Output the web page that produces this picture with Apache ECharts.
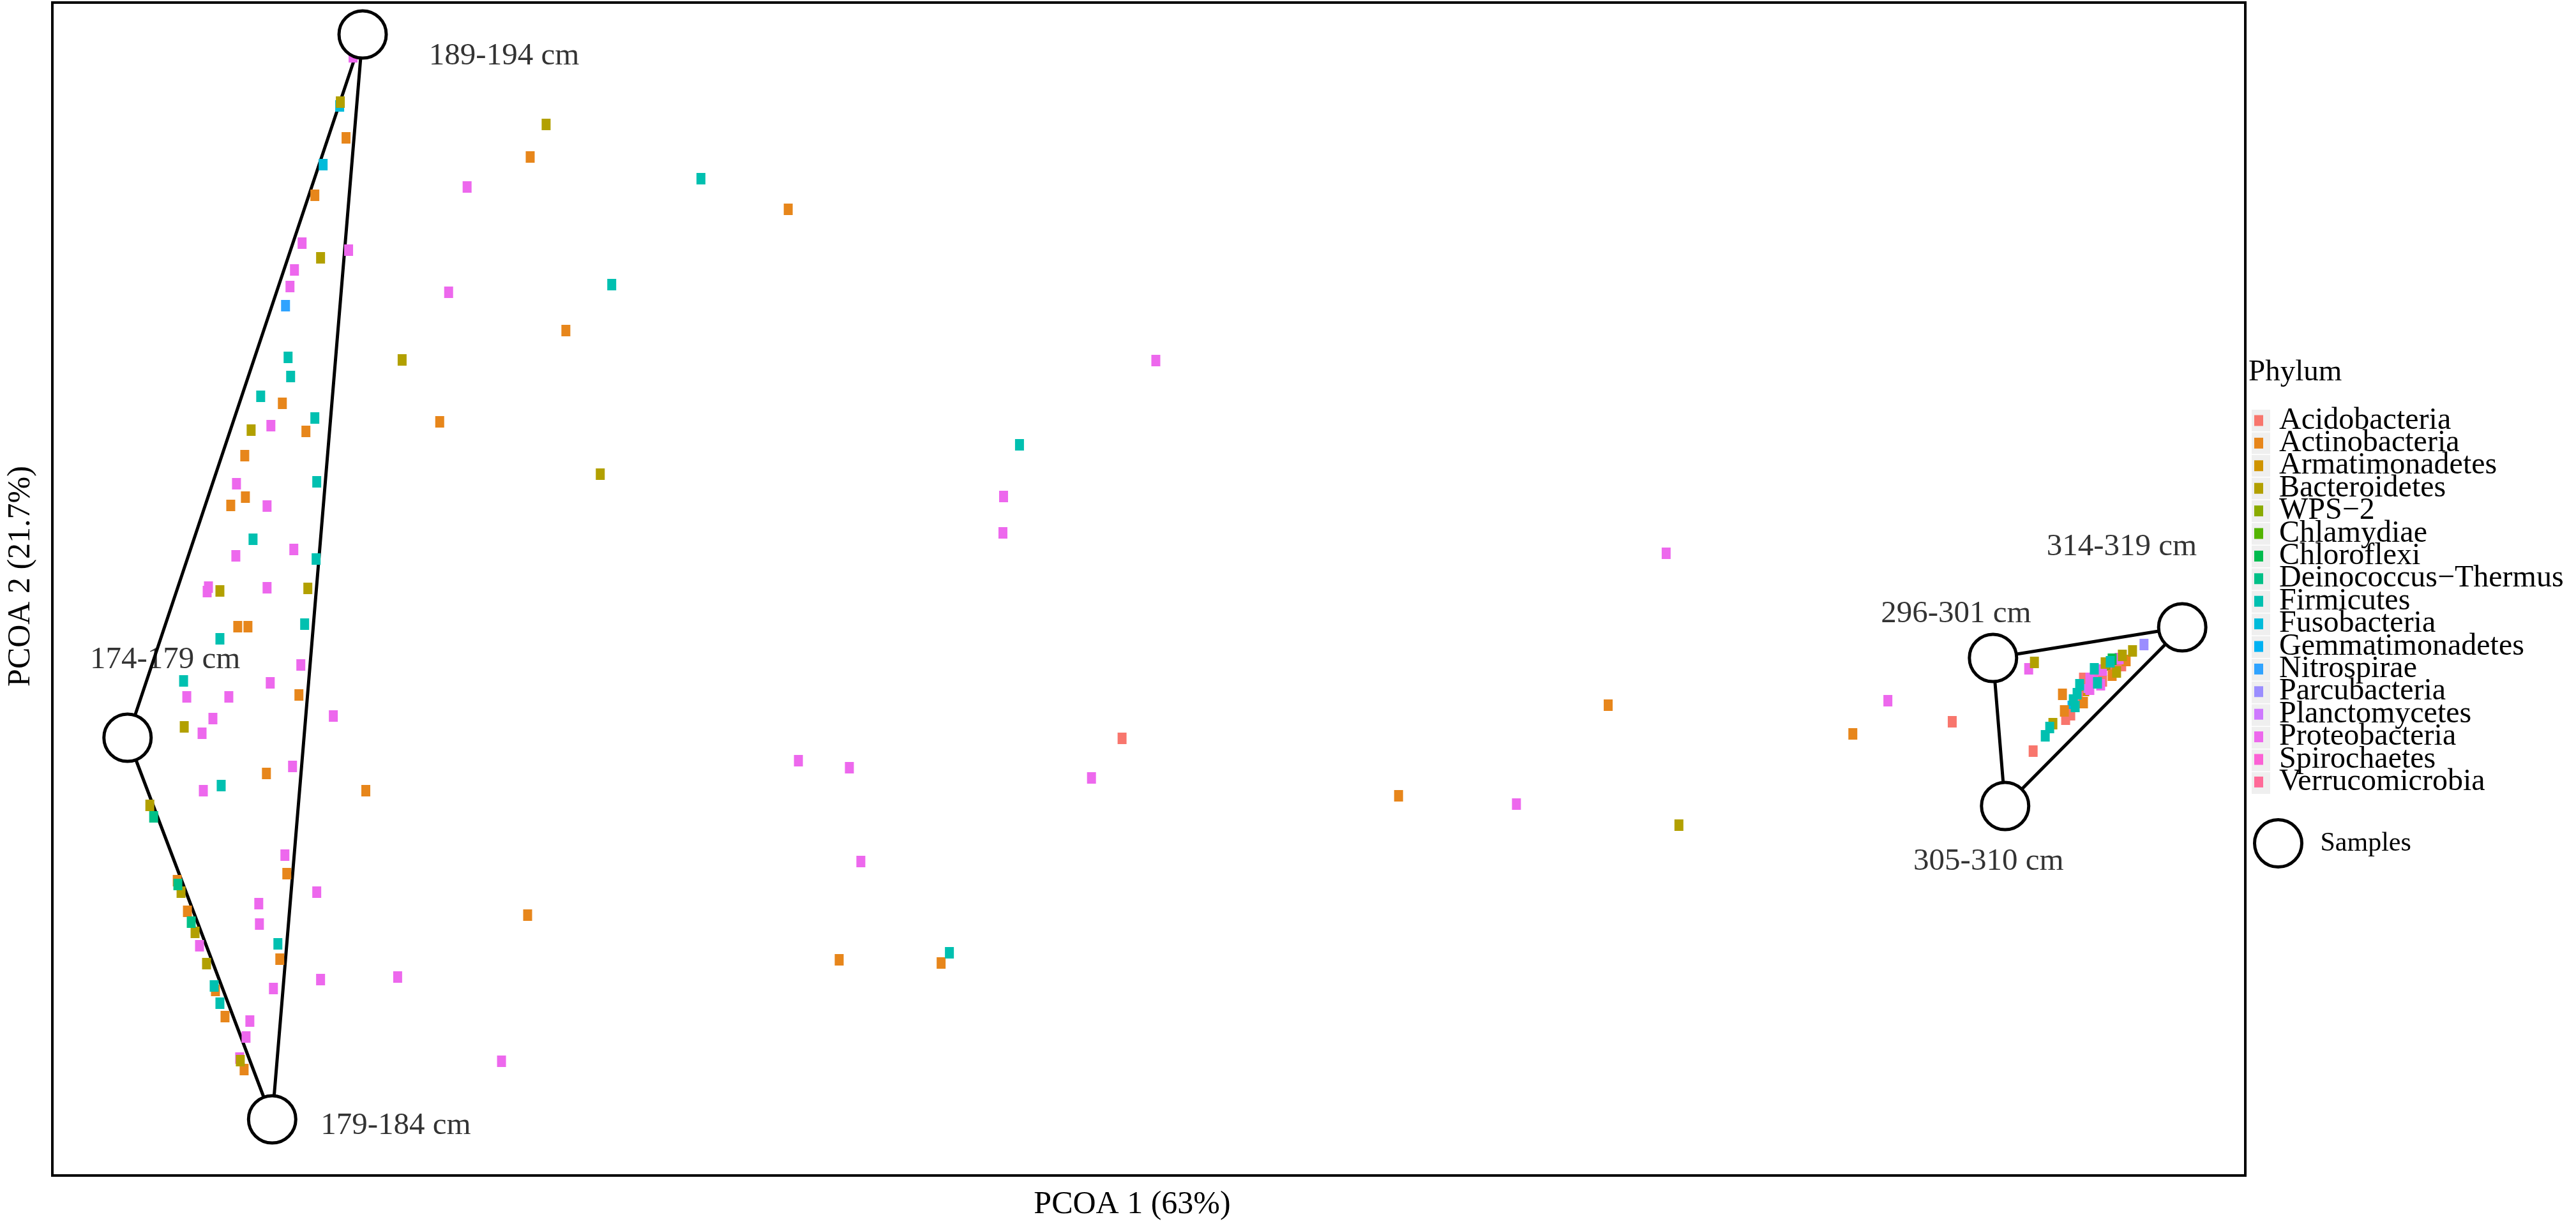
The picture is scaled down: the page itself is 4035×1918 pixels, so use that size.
<!DOCTYPE html>
<html><head><meta charset="utf-8">
<script src="https://cdn.jsdelivr.net/npm/echarts@6/dist/echarts.min.js"></script>
<style>html,body{margin:0;padding:0;background:#fff}#c{width:4035px;height:1918px}</style>
</head><body><div id="c"></div><script>
// Phyla (legend order) and colours (ggplot hue palette, 17 levels)
const phyla = ['Acidobacteria','Actinobacteria','Armatimonadetes','Bacteroidetes','WPS\u22122','Chlamydiae','Chloroflexi','Deinococcus\u2212Thermus','Firmicutes','Fusobacteria','Gemmatimonadetes','Nitrospirae','Parcubacteria','Planctomycetes','Proteobacteria','Spirochaetes','Verrucomicrobia'];
const phylumColors = ['#F8766D','#E7861B','#D09400','#B2A000','#8AAB00','#53B400','#00BB4E','#00C087','#00C0B0','#00BBDA','#00B2F3','#2FA3FF','#9B8EFF','#CE79FF','#ED68ED','#FC61D5','#FF6A98'];

// Taxa coordinates [PCoA1, PCoA2] (arbitrary units)
const acidobacteria = [[1679,685],[2982,711],[3109,665],[3160,715],[3168,722],[3188,779],[3218,775],[3237,795],[3248,799]];
const actinobacteria = [[461,1626],[412,1536],[361,1210],[608,1181],[398,1166],[302,1128],[303,1063],[280,1050],[291,860],[307,860],[387,753],[336,630],[492,603],[368,473],[196,462],[212,414],[357,339],[256,290],[271,249],[301,166],[750,1596],[1155,1514],[806,1324],[746,408],[1235,338],[1395,333],[2113,595],[2442,737],[2826,692],[3155,754],[3158,728],[3188,741],[3233,784],[3255,807]];
const armatimonadetes = [[3190,760]];
const bacteroidetes = [[452,1682],[421,1438],[549,1278],[312,1168],[263,916],[401,920],[207,703],[153,580],[202,444],[224,381],[242,332],[295,180],[775,1647],[860,1099],[2553,549],[3111,804],[3140,708],[3222,803],[3240,789],[3249,815],[3265,822]];
const wps2 = [[3200,775]];
const chlamydiae = [[3225,800]];
const chloroflexi = [[3233,809]];
const deinococcus = [[159,562],[197,456],[218,397]];
const firmicutes = [[370,1282],[374,1252],[327,1221],[412,1187],[415,1087],[315,997],[414,966],[396,864],[263,841],[206,775],[265,611],[354,363],[254,297],[263,270],[1018,1562],[878,1396],[1518,1145],[1408,349],[3128,689],[3135,702],[3172,745],[3175,735],[3178,755],[3182,769],[3205,794],[3210,772],[3230,805]];
const fusobacteria = [[451,1676],[425,1584]];
const gemmatimonadetes = [[3170,735]];
const nitrospirae = [[366,1363]];
const parcubacteria = [[3283,832]];
const planctomycetes = [[3195,765]];
const proteobacteria = [[472,1753],[392,1461],[465,1450],[380,1419],[373,1393],[622,1384],[343,1175],[289,1084],[337,1049],[379,981],[288,971],[245,922],[243,915],[337,921],[390,800],[211,750],[277,750],[342,772],[441,720],[252,716],[235,693],[377,641],[237,603],[365,502],[415,444],[324,426],[325,394],[231,360],[347,293],[421,307],[542,311],[310,242],[304,217],[294,184],[651,1549],[1732,1277],[1493,1064],[1492,1007],[2533,975],[1171,650],[1251,639],[1631,623],[2298,582],[1269,492],[705,179],[2881,744],[3102,794],[3218,792],[3198,779],[3198,762],[3215,769],[3244,810]];
const spirochaetes = [[3205,780]];
const verrucomicrobia = [[3180,750]];

// Samples
const sampleNames = ['189-194 cm','174-179 cm','179-184 cm','296-301 cm','314-319 cm','305-310 cm'];
const samplePC1 = [487,118,345,3046,3343,3065];
const samplePC2 = [1788,686,88,811,859,579];
const sampleLabelPC1 = [709,177,539,2988,3248,3039];
const sampleLabelPC2 = [1754,808,78,880,985,492];
const hullGroups = [[0,1,2,0],[3,4,5,3]];

// axis ranges
const xRange = [0, 3442];
const yRange = [0, 1838];

const phylumData = [acidobacteria,actinobacteria,armatimonadetes,bacteroidetes,wps2,chlamydiae,chloroflexi,deinococcus,firmicutes,fusobacteria,gemmatimonadetes,nitrospirae,parcubacteria,planctomycetes,proteobacteria,spirochaetes,verrucomicrobia];
// drawing order: hidden/small ones first
const drawOrder = [2,4,5,10,13,15,16,9,0,1,14,3,6,7,8,11,12];

const FONT = 'Liberation Serif';
const series = [];
hullGroups.forEach((g, gi) => {
  series.push({
    type: 'line', name: 'hull' + gi, silent: true, symbol: 'none', z: 1,
    lineStyle: {color: '#000', width: 5}, animation: false,
    data: g.map(i => [samplePC1[i], samplePC2[i]])
  });
});
drawOrder.forEach(i => {
  series.push({
    type: 'scatter', name: phyla[i], symbol: 'rect', symbolSize: [14, 18], z: 2,
    itemStyle: {color: phylumColors[i], opacity: 1},
    data: phylumData[i]
  });
});
series.push({
  type: 'scatter', name: 'Samples', symbol: 'circle', symbolSize: 74, z: 3,
  itemStyle: {color: '#fff', borderColor: '#000', borderWidth: 5, opacity: 1},
  data: sampleNames.map((n, i) => ({name: n, value: [samplePC1[i], samplePC2[i]]}))
});
series.push({
  type: 'scatter', name: 'sampleLabels', symbolSize: 1, z: 4, silent: true,
  itemStyle: {color: 'rgba(0,0,0,0)'},
  label: {show: true, position: 'inside', formatter: p => p.name, fontFamily: FONT, fontSize: 49, color: '#000'},
  data: sampleNames.map((n, i) => ({name: n, value: [sampleLabelPC1[i], sampleLabelPC2[i]]}))
});

const keyBoxes = phyla.map((p, i) => ({
  type: 'rect', z: 0, silent: true,
  shape: {x: 3527, y: 642 + i * 35.5, width: 29, height: 34},
  style: {fill: '#EFEFEF'}
}));

const chart = echarts.init(document.getElementById('c'));
chart.setOption({
  animation: false,
  backgroundColor: '#fff',
  title: {text: 'Phylum', left: 3522, top: 560, padding: 0,
    textStyle: {fontFamily: FONT, fontSize: 47, fontWeight: 'normal', color: '#000'}},
  grid: {left: 75, top: 4, width: 3442, height: 1838, show: true, borderColor: '#000', borderWidth: 4, backgroundColor: '#fff'},
  xAxis: {type: 'value', min: xRange[0], max: xRange[1], axisLine: {show: false}, axisTick: {show: false}, axisLabel: {show: false}, splitLine: {show: false},
    name: 'PCOA 1 (63%)', nameLocation: 'middle', nameGap: 21,
    nameTextStyle: {fontFamily: FONT, fontSize: 50, color: '#000', padding: [0, 52, 0, 0]}},
  yAxis: {type: 'value', min: yRange[0], max: yRange[1], axisLine: {show: false}, axisTick: {show: false}, axisLabel: {show: false}, splitLine: {show: false},
    name: 'PCOA 2 (21.7%)', nameLocation: 'middle', nameGap: 24,
    nameTextStyle: {fontFamily: FONT, fontSize: 50, color: '#000', padding: [0, 0, 0, 40]}},
  legend: [{
    data: phyla, orient: 'vertical', left: 3531, top: 635, padding: 0,
    itemWidth: 14, itemHeight: 17, itemGap: -12.6, icon: 'rect',
    textStyle: {fontFamily: FONT, fontSize: 48, color: '#000', padding: [0, 0, 0, 20]}
  }, {
    data: ['Samples'], orient: 'vertical', left: 3529, top: 1282, padding: 0,
    itemWidth: 74, itemHeight: 74, icon: 'circle',
    itemStyle: {color: '#fff', borderColor: '#000', borderWidth: 5},
    textStyle: {fontFamily: FONT, fontSize: 42, color: '#000', padding: [0, 0, 0, 24]}
  }],
  graphic: keyBoxes,
  series: series
});
</script></body></html>
